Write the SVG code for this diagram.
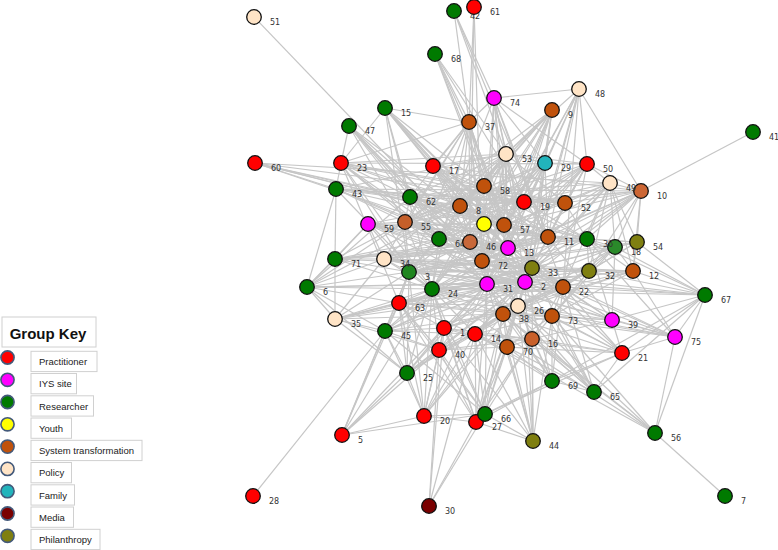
<svg xmlns="http://www.w3.org/2000/svg" width="778" height="550" viewBox="0 0 778 550">
<style>
#edges path{stroke:#c6c6c6;stroke-width:1.2;fill:none}
.node circle{stroke:#111;stroke-width:1.3}
.node text{font-family:"DejaVu Sans",sans-serif;font-size:8px;fill:#333}
.pr{fill:#ff0000}.iy{fill:#ff00ff}.re{fill:#007a00}.yo{fill:#ffff00}.st{fill:#c0520c}.po{fill:#ffe4c6}.fa{fill:#22b4bc}.me{fill:#7a0000}.ph{fill:#7f7f10}
.lk circle{stroke:#43597a;stroke-width:1.6}
.lk rect{fill:#fff;stroke:#d0d0d0;stroke-width:1}
.lk text{font-family:"Liberation Sans",Arial,sans-serif;font-size:9.5px;fill:#222}
</style>
<rect width="778" height="550" fill="#fff"/>
<g id="edges">
<path d="M254 17 470 242"/>
<path d="M255 163 504 225"/><path d="M255 163 548 237"/><path d="M255 163 565 203"/><path d="M255 163 587 239"/><path d="M255 163 508 248"/><path d="M255 163 410 197"/><path d="M255 163 336 189"/><path d="M255 163 610 183"/>
<path d="M341 163 385 108"/><path d="M341 163 349 126"/><path d="M341 163 336 189"/><path d="M341 163 410 197"/><path d="M341 163 484 186"/><path d="M341 163 524 202"/><path d="M341 163 565 203"/><path d="M341 163 587 239"/><path d="M341 163 548 237"/><path d="M341 163 482 261"/><path d="M341 163 487 284"/><path d="M341 163 439 239"/><path d="M341 163 409 272"/><path d="M341 163 432 289"/><path d="M341 163 399 303"/><path d="M341 163 587 164"/>
<path d="M433 166 469 122"/><path d="M433 166 484 186"/><path d="M433 166 504 225"/><path d="M433 166 508 248"/><path d="M433 166 548 237"/><path d="M433 166 587 239"/><path d="M433 166 518 306"/><path d="M433 166 470 242"/><path d="M433 166 525 282"/><path d="M433 166 563 287"/><path d="M433 166 385 108"/><path d="M433 166 506 154"/><path d="M433 166 641 191"/>
<path d="M336 189 307 287"/><path d="M336 189 335 259"/><path d="M336 189 410 197"/><path d="M336 189 405 222"/><path d="M336 189 460 206"/><path d="M336 189 524 202"/><path d="M336 189 565 203"/><path d="M336 189 548 237"/><path d="M336 189 532 268"/><path d="M336 189 432 289"/><path d="M336 189 563 287"/><path d="M336 189 641 191"/>
<path d="M349 126 405 222"/><path d="M349 126 439 239"/><path d="M349 126 482 261"/><path d="M349 126 487 284"/><path d="M349 126 525 282"/><path d="M349 126 563 287"/><path d="M349 126 518 306"/>
<path d="M385 108 469 122"/><path d="M385 108 484 186"/><path d="M385 108 504 225"/><path d="M385 108 508 248"/><path d="M385 108 432 289"/><path d="M385 108 409 272"/><path d="M385 108 532 268"/><path d="M385 108 563 287"/><path d="M385 108 525 282"/><path d="M385 108 410 197"/>
<path d="M435 54 469 122"/><path d="M435 54 506 154"/><path d="M435 54 504 225"/><path d="M435 54 548 237"/><path d="M435 54 508 248"/><path d="M435 54 532 268"/>
<path d="M454 11 469 122"/><path d="M454 11 494 98"/><path d="M454 11 506 154"/><path d="M454 11 548 237"/>
<path d="M474 7 469 122"/><path d="M474 7 482 261"/><path d="M474 7 470 242"/>
<path d="M494 98 579 89"/><path d="M494 98 469 122"/><path d="M494 98 506 154"/><path d="M494 98 545 163"/><path d="M494 98 504 225"/><path d="M494 98 548 237"/><path d="M494 98 563 287"/><path d="M494 98 439 239"/><path d="M494 98 482 261"/><path d="M494 98 518 306"/><path d="M494 98 487 284"/><path d="M494 98 532 268"/><path d="M494 98 587 164"/>
<path d="M469 122 484 186"/><path d="M469 122 460 206"/><path d="M469 122 504 225"/><path d="M469 122 508 248"/><path d="M469 122 470 242"/><path d="M469 122 482 261"/><path d="M469 122 487 284"/><path d="M469 122 409 272"/><path d="M469 122 432 289"/><path d="M469 122 384 259"/><path d="M469 122 405 222"/><path d="M469 122 410 197"/><path d="M469 122 341 163"/><path d="M469 122 525 282"/>
<path d="M552 110 506 154"/><path d="M552 110 545 163"/><path d="M552 110 460 206"/><path d="M552 110 484 186"/><path d="M552 110 504 225"/><path d="M552 110 470 242"/><path d="M552 110 482 261"/><path d="M552 110 508 248"/><path d="M552 110 487 284"/><path d="M552 110 532 268"/><path d="M552 110 525 282"/><path d="M552 110 405 222"/><path d="M552 110 439 239"/><path d="M552 110 432 289"/>
<path d="M579 89 641 191"/><path d="M579 89 506 154"/><path d="M579 89 545 163"/><path d="M579 89 587 164"/><path d="M579 89 504 225"/><path d="M579 89 508 248"/><path d="M579 89 548 237"/><path d="M579 89 525 282"/><path d="M579 89 563 287"/><path d="M579 89 532 268"/><path d="M579 89 482 261"/>
<path d="M506 154 545 163"/><path d="M506 154 484 186"/><path d="M506 154 460 206"/><path d="M506 154 504 225"/><path d="M506 154 470 242"/><path d="M506 154 508 248"/><path d="M506 154 482 261"/><path d="M506 154 487 284"/><path d="M506 154 525 282"/><path d="M506 154 532 268"/><path d="M506 154 524 202"/><path d="M506 154 565 203"/><path d="M506 154 432 289"/><path d="M506 154 409 272"/><path d="M506 154 405 222"/><path d="M506 154 410 197"/><path d="M506 154 439 239"/><path d="M506 154 384 259"/><path d="M506 154 336 189"/><path d="M506 154 341 163"/><path d="M506 154 587 164"/>
<path d="M545 163 587 164"/><path d="M545 163 504 225"/><path d="M545 163 508 248"/><path d="M545 163 548 237"/><path d="M545 163 482 261"/><path d="M545 163 525 282"/><path d="M545 163 487 284"/><path d="M545 163 532 268"/><path d="M545 163 460 206"/><path d="M545 163 470 242"/><path d="M545 163 439 239"/><path d="M545 163 432 289"/><path d="M545 163 409 272"/><path d="M545 163 405 222"/>
<path d="M587 164 641 191"/><path d="M587 164 610 183"/><path d="M587 164 565 203"/><path d="M587 164 524 202"/><path d="M587 164 548 237"/><path d="M587 164 508 248"/><path d="M587 164 504 225"/><path d="M587 164 482 261"/><path d="M587 164 532 268"/><path d="M587 164 525 282"/><path d="M587 164 487 284"/><path d="M587 164 563 287"/><path d="M587 164 439 239"/><path d="M587 164 405 222"/>
<path d="M610 183 641 191"/><path d="M610 183 587 239"/><path d="M610 183 615 247"/><path d="M610 183 637 242"/><path d="M610 183 633 271"/><path d="M610 183 589 271"/><path d="M610 183 565 203"/><path d="M610 183 548 237"/><path d="M610 183 524 202"/><path d="M610 183 504 225"/><path d="M610 183 532 268"/><path d="M610 183 525 282"/><path d="M610 183 563 287"/><path d="M610 183 508 248"/><path d="M610 183 410 197"/>
<path d="M641 191 753 132"/><path d="M641 191 637 242"/><path d="M641 191 615 247"/><path d="M641 191 587 239"/><path d="M641 191 565 203"/><path d="M641 191 548 237"/><path d="M641 191 524 202"/><path d="M641 191 504 225"/><path d="M641 191 508 248"/><path d="M641 191 525 282"/><path d="M641 191 532 268"/><path d="M641 191 589 271"/><path d="M641 191 633 271"/><path d="M641 191 482 261"/><path d="M641 191 487 284"/><path d="M641 191 460 206"/>
<path d="M637 242 705 295"/><path d="M637 242 615 247"/><path d="M637 242 587 239"/><path d="M637 242 633 271"/><path d="M637 242 589 271"/><path d="M637 242 548 237"/><path d="M637 242 532 268"/><path d="M637 242 563 287"/>
<path d="M615 247 633 271"/><path d="M615 247 705 295"/><path d="M615 247 587 239"/><path d="M615 247 589 271"/><path d="M615 247 548 237"/><path d="M615 247 532 268"/><path d="M615 247 525 282"/><path d="M615 247 563 287"/><path d="M615 247 552 316"/><path d="M615 247 612 320"/><path d="M615 247 518 306"/>
<path d="M633 271 705 295"/><path d="M633 271 675 337"/><path d="M633 271 589 271"/><path d="M633 271 532 268"/><path d="M633 271 563 287"/><path d="M633 271 552 316"/><path d="M633 271 518 306"/><path d="M633 271 525 282"/>
<path d="M705 295 655 433"/><path d="M705 295 552 381"/><path d="M705 295 594 392"/><path d="M705 295 622 353"/><path d="M705 295 675 337"/><path d="M705 295 612 320"/><path d="M705 295 587 239"/><path d="M705 295 589 271"/><path d="M705 295 563 287"/><path d="M705 295 432 289"/><path d="M705 295 384 259"/><path d="M705 295 409 272"/>
<path d="M675 337 655 433"/><path d="M675 337 622 353"/><path d="M675 337 612 320"/><path d="M675 337 563 287"/><path d="M675 337 552 316"/><path d="M675 337 518 306"/><path d="M675 337 503 314"/><path d="M675 337 525 282"/><path d="M675 337 532 268"/><path d="M675 337 487 284"/><path d="M675 337 587 239"/>
<path d="M612 320 622 353"/><path d="M612 320 563 287"/><path d="M612 320 552 316"/><path d="M612 320 518 306"/><path d="M612 320 503 314"/><path d="M612 320 532 339"/><path d="M612 320 525 282"/><path d="M612 320 532 268"/><path d="M612 320 487 284"/><path d="M612 320 548 237"/><path d="M612 320 587 239"/>
<path d="M622 353 552 381"/><path d="M622 353 594 392"/><path d="M622 353 532 339"/><path d="M622 353 507 347"/><path d="M622 353 552 316"/><path d="M622 353 503 314"/><path d="M622 353 475 334"/><path d="M622 353 563 287"/><path d="M622 353 525 282"/><path d="M622 353 487 284"/><path d="M622 353 532 268"/><path d="M622 353 485 414"/>
<path d="M655 433 725 496"/><path d="M655 433 503 314"/><path d="M655 433 518 306"/><path d="M655 433 532 339"/><path d="M655 433 475 334"/><path d="M655 433 432 289"/><path d="M655 433 552 316"/>
<path d="M594 392 552 381"/><path d="M594 392 552 316"/><path d="M594 392 518 306"/><path d="M594 392 503 314"/><path d="M594 392 532 339"/><path d="M594 392 507 347"/><path d="M594 392 525 282"/><path d="M594 392 563 287"/><path d="M594 392 487 284"/><path d="M594 392 532 268"/>
<path d="M552 381 507 347"/><path d="M552 381 532 339"/><path d="M552 381 503 314"/><path d="M552 381 518 306"/><path d="M552 381 552 316"/><path d="M552 381 525 282"/><path d="M552 381 487 284"/><path d="M552 381 563 287"/><path d="M552 381 485 414"/><path d="M552 381 476 422"/><path d="M552 381 475 334"/>
<path d="M533 441 532 339"/><path d="M533 441 507 347"/><path d="M533 441 485 414"/><path d="M533 441 476 422"/><path d="M533 441 503 314"/><path d="M533 441 518 306"/><path d="M533 441 552 316"/><path d="M533 441 475 334"/><path d="M533 441 444 328"/><path d="M533 441 487 284"/><path d="M533 441 525 282"/><path d="M533 441 532 268"/>
<path d="M485 414 476 422"/><path d="M485 414 424 416"/><path d="M485 414 475 334"/><path d="M485 414 444 328"/><path d="M485 414 439 350"/><path d="M485 414 503 314"/><path d="M485 414 507 347"/><path d="M485 414 532 339"/><path d="M485 414 518 306"/><path d="M485 414 487 284"/><path d="M485 414 432 289"/><path d="M485 414 385 331"/><path d="M485 414 399 303"/><path d="M485 414 342 435"/>
<path d="M476 422 429 506"/><path d="M476 422 424 416"/><path d="M476 422 475 334"/><path d="M476 422 444 328"/><path d="M476 422 439 350"/><path d="M476 422 503 314"/><path d="M476 422 507 347"/><path d="M476 422 532 339"/><path d="M476 422 518 306"/><path d="M476 422 525 282"/><path d="M476 422 487 284"/><path d="M476 422 432 289"/><path d="M476 422 399 303"/>
<path d="M429 506 485 414"/><path d="M429 506 475 334"/><path d="M429 506 444 328"/><path d="M429 506 439 350"/>
<path d="M424 416 342 435"/><path d="M424 416 407 373"/><path d="M424 416 439 350"/><path d="M424 416 444 328"/><path d="M424 416 475 334"/><path d="M424 416 503 314"/><path d="M424 416 518 306"/><path d="M424 416 399 303"/><path d="M424 416 385 331"/><path d="M424 416 432 289"/><path d="M424 416 487 284"/><path d="M424 416 409 272"/>
<path d="M342 435 407 373"/><path d="M342 435 385 331"/><path d="M342 435 399 303"/><path d="M342 435 432 289"/><path d="M342 435 409 272"/><path d="M342 435 439 350"/><path d="M342 435 444 328"/>
<path d="M253 496 385 331"/>
<path d="M407 373 385 331"/><path d="M407 373 439 350"/><path d="M407 373 444 328"/><path d="M407 373 475 334"/><path d="M407 373 503 314"/><path d="M407 373 518 306"/><path d="M407 373 399 303"/><path d="M407 373 432 289"/><path d="M407 373 409 272"/><path d="M407 373 487 284"/><path d="M407 373 525 282"/><path d="M407 373 335 319"/><path d="M407 373 307 287"/>
<path d="M385 331 335 319"/><path d="M385 331 399 303"/><path d="M385 331 439 350"/><path d="M385 331 444 328"/><path d="M385 331 475 334"/><path d="M385 331 432 289"/><path d="M385 331 409 272"/><path d="M385 331 487 284"/><path d="M385 331 525 282"/><path d="M385 331 482 261"/><path d="M385 331 532 268"/><path d="M385 331 503 314"/>
<path d="M335 319 307 287"/><path d="M335 319 399 303"/><path d="M335 319 432 289"/><path d="M335 319 409 272"/><path d="M335 319 384 259"/><path d="M335 319 335 259"/><path d="M335 319 487 284"/><path d="M335 319 525 282"/><path d="M335 319 532 268"/><path d="M335 319 563 287"/><path d="M335 319 503 314"/><path d="M335 319 439 350"/>
<path d="M307 287 335 259"/><path d="M307 287 384 259"/><path d="M307 287 409 272"/><path d="M307 287 432 289"/><path d="M307 287 399 303"/><path d="M307 287 368 224"/><path d="M307 287 405 222"/><path d="M307 287 410 197"/><path d="M307 287 460 206"/><path d="M307 287 487 284"/><path d="M307 287 525 282"/><path d="M307 287 385 331"/>
<path d="M335 259 384 259"/><path d="M335 259 409 272"/><path d="M335 259 432 289"/><path d="M335 259 368 224"/><path d="M335 259 405 222"/><path d="M335 259 439 239"/><path d="M335 259 470 242"/><path d="M335 259 508 248"/><path d="M335 259 548 237"/><path d="M335 259 587 239"/><path d="M335 259 532 268"/>
<path d="M368 224 405 222"/><path d="M368 224 439 239"/><path d="M368 224 470 242"/><path d="M368 224 460 206"/><path d="M368 224 504 225"/><path d="M368 224 508 248"/><path d="M368 224 548 237"/><path d="M368 224 587 239"/><path d="M368 224 482 261"/><path d="M368 224 487 284"/><path d="M368 224 525 282"/><path d="M368 224 532 268"/><path d="M368 224 384 259"/><path d="M368 224 409 272"/>
<path d="M405 222 410 197"/><path d="M405 222 460 206"/><path d="M405 222 484 186"/><path d="M405 222 504 225"/><path d="M405 222 439 239"/><path d="M405 222 470 242"/><path d="M405 222 508 248"/><path d="M405 222 482 261"/><path d="M405 222 487 284"/><path d="M405 222 525 282"/><path d="M405 222 532 268"/><path d="M405 222 563 287"/><path d="M405 222 548 237"/><path d="M405 222 587 239"/><path d="M405 222 524 202"/><path d="M405 222 565 203"/><path d="M405 222 409 272"/><path d="M405 222 432 289"/>
<path d="M410 197 484 186"/><path d="M410 197 460 206"/><path d="M410 197 484 224"/><path d="M410 197 504 225"/><path d="M410 197 524 202"/><path d="M410 197 565 203"/><path d="M410 197 548 237"/><path d="M410 197 587 239"/><path d="M410 197 508 248"/><path d="M410 197 439 239"/><path d="M410 197 470 242"/><path d="M410 197 482 261"/><path d="M410 197 532 268"/>
<path d="M384 259 409 272"/><path d="M384 259 432 289"/><path d="M384 259 439 239"/><path d="M384 259 470 242"/><path d="M384 259 508 248"/><path d="M384 259 482 261"/><path d="M384 259 487 284"/><path d="M384 259 525 282"/><path d="M384 259 532 268"/><path d="M384 259 563 287"/><path d="M384 259 548 237"/><path d="M384 259 587 239"/><path d="M384 259 589 271"/><path d="M384 259 633 271"/>
<path d="M409 272 432 289"/><path d="M409 272 439 239"/><path d="M409 272 470 242"/><path d="M409 272 508 248"/><path d="M409 272 482 261"/><path d="M409 272 487 284"/><path d="M409 272 525 282"/><path d="M409 272 532 268"/><path d="M409 272 563 287"/><path d="M409 272 548 237"/><path d="M409 272 587 239"/><path d="M409 272 589 271"/><path d="M409 272 615 247"/><path d="M409 272 637 242"/><path d="M409 272 633 271"/><path d="M409 272 399 303"/>
<path d="M399 303 432 289"/><path d="M399 303 439 350"/><path d="M399 303 444 328"/><path d="M399 303 475 334"/><path d="M399 303 503 314"/><path d="M399 303 518 306"/><path d="M399 303 487 284"/><path d="M399 303 525 282"/><path d="M399 303 532 268"/><path d="M399 303 563 287"/><path d="M399 303 552 316"/>
<path d="M432 289 439 239"/><path d="M432 289 470 242"/><path d="M432 289 482 261"/><path d="M432 289 487 284"/><path d="M432 289 525 282"/><path d="M432 289 532 268"/><path d="M432 289 563 287"/><path d="M432 289 552 316"/><path d="M432 289 503 314"/><path d="M432 289 518 306"/><path d="M432 289 548 237"/><path d="M432 289 587 239"/><path d="M432 289 589 271"/><path d="M432 289 633 271"/><path d="M432 289 444 328"/><path d="M432 289 475 334"/><path d="M432 289 439 350"/>
<path d="M444 328 475 334"/><path d="M444 328 439 350"/><path d="M444 328 503 314"/><path d="M444 328 518 306"/><path d="M444 328 507 347"/><path d="M444 328 532 339"/><path d="M444 328 487 284"/><path d="M444 328 525 282"/><path d="M444 328 532 268"/><path d="M444 328 563 287"/>
<path d="M439 350 475 334"/><path d="M439 350 503 314"/><path d="M439 350 507 347"/><path d="M439 350 532 339"/><path d="M439 350 487 284"/><path d="M439 350 525 282"/>
<path d="M475 334 503 314"/><path d="M475 334 518 306"/><path d="M475 334 507 347"/><path d="M475 334 532 339"/><path d="M475 334 525 282"/><path d="M475 334 563 287"/><path d="M475 334 552 316"/><path d="M475 334 532 268"/>
<path d="M503 314 518 306"/><path d="M503 314 507 347"/><path d="M503 314 532 339"/><path d="M503 314 552 316"/><path d="M503 314 525 282"/><path d="M503 314 563 287"/><path d="M503 314 532 268"/><path d="M503 314 487 284"/><path d="M503 314 633 271"/><path d="M503 314 589 271"/>
<path d="M518 306 552 316"/><path d="M518 306 532 339"/><path d="M518 306 507 347"/><path d="M518 306 563 287"/><path d="M518 306 525 282"/><path d="M518 306 532 268"/><path d="M518 306 589 271"/>
<path d="M507 347 532 339"/><path d="M507 347 552 316"/><path d="M532 339 552 316"/><path d="M532 339 563 287"/>
<path d="M552 316 563 287"/><path d="M552 316 589 271"/><path d="M563 287 589 271"/><path d="M563 287 532 268"/>
<path d="M589 271 532 268"/><path d="M589 271 587 239"/>
<path d="M532 268 525 282"/><path d="M532 268 487 284"/><path d="M532 268 482 261"/><path d="M532 268 508 248"/><path d="M532 268 548 237"/><path d="M532 268 587 239"/>
<path d="M525 282 487 284"/><path d="M525 282 482 261"/><path d="M525 282 508 248"/><path d="M525 282 548 237"/>
<path d="M487 284 482 261"/><path d="M487 284 508 248"/><path d="M487 284 470 242"/>
<path d="M482 261 470 242"/><path d="M482 261 508 248"/><path d="M482 261 439 239"/><path d="M482 261 504 225"/><path d="M482 261 548 237"/>
<path d="M508 248 470 242"/><path d="M508 248 504 225"/><path d="M508 248 548 237"/><path d="M508 248 460 206"/><path d="M508 248 484 224"/>
<path d="M470 242 439 239"/><path d="M470 242 460 206"/><path d="M470 242 504 225"/><path d="M470 242 484 224"/>
<path d="M439 239 460 206"/><path d="M439 239 484 224"/>
<path d="M484 224 460 206"/><path d="M484 224 504 225"/><path d="M484 224 484 186"/><path d="M484 224 524 202"/>
<path d="M460 206 484 186"/><path d="M460 206 504 225"/><path d="M460 206 524 202"/>
<path d="M484 186 524 202"/><path d="M484 186 504 225"/><path d="M484 186 565 203"/><path d="M484 186 548 237"/>
<path d="M524 202 565 203"/><path d="M524 202 504 225"/><path d="M524 202 548 237"/><path d="M524 202 587 239"/>
<path d="M565 203 548 237"/><path d="M565 203 587 239"/><path d="M565 203 504 225"/>
<path d="M548 237 587 239"/><path d="M548 237 504 225"/><path d="M587 239 633 271"/>
</g>
<g id="n42" class="node"><circle class="re" cx="454" cy="11" r="7.3"/><text x="470" y="19">42</text></g>
<g id="n61" class="node"><circle class="pr" cx="474" cy="7" r="7.3"/><text x="490" y="15">61</text></g>
<g id="n1" class="node"><circle class="pr" cx="444" cy="328" r="7.3"/><text x="460" y="336">1</text></g>
<g id="n2" class="node"><circle class="iy" cx="525" cy="282" r="7.3"/><text x="541" y="290">2</text></g>
<g id="n3" class="node"><circle class="re" cx="409" cy="272" r="7.3" style="fill:#1f861f"/><text x="425" y="280">3</text></g>
<g id="n4" class="node"><circle class="yo" cx="484" cy="224" r="7.3"/></g>
<g id="n5" class="node"><circle class="pr" cx="342" cy="435" r="7.3"/><text x="358" y="443">5</text></g>
<g id="n6" class="node"><circle class="re" cx="307" cy="287" r="7.3"/><text x="323" y="295">6</text></g>
<g id="n7" class="node"><circle class="re" cx="725" cy="496" r="7.3"/><text x="741" y="504">7</text></g>
<g id="n8" class="node"><circle class="st" cx="460" cy="206" r="7.3"/><text x="476" y="214">8</text></g>
<g id="n9" class="node"><circle class="st" cx="552" cy="110" r="7.3"/><text x="568" y="118">9</text></g>
<g id="n10" class="node"><circle class="st" cx="641" cy="191" r="7.3" style="fill:#cc6634"/><text x="657" y="199">10</text></g>
<g id="n11" class="node"><circle class="st" cx="548" cy="237" r="7.3"/><text x="564" y="245">11</text></g>
<g id="n12" class="node"><circle class="st" cx="633" cy="271" r="7.3"/><text x="649" y="279">12</text></g>
<g id="n13" class="node"><circle class="iy" cx="508" cy="248" r="7.3"/><text x="524" y="256">13</text></g>
<g id="n14" class="node"><circle class="pr" cx="475" cy="334" r="7.3"/><text x="491" y="342">14</text></g>
<g id="n15" class="node"><circle class="re" cx="385" cy="108" r="7.3"/><text x="401" y="116">15</text></g>
<g id="n16" class="node"><circle class="st" cx="532" cy="339" r="7.3" style="fill:#c8602a"/><text x="548" y="347">16</text></g>
<g id="n17" class="node"><circle class="pr" cx="433" cy="166" r="7.3"/><text x="449" y="174">17</text></g>
<g id="n18" class="node"><circle class="re" cx="615" cy="247" r="7.3" style="fill:#2a8a2a"/><text x="631" y="255">18</text></g>
<g id="n19" class="node"><circle class="pr" cx="524" cy="202" r="7.3"/><text x="540" y="210">19</text></g>
<g id="n20" class="node"><circle class="pr" cx="424" cy="416" r="7.3"/><text x="440" y="424">20</text></g>
<g id="n21" class="node"><circle class="pr" cx="622" cy="353" r="7.3"/><text x="638" y="361">21</text></g>
<g id="n22" class="node"><circle class="st" cx="563" cy="287" r="7.3"/><text x="579" y="295">22</text></g>
<g id="n23" class="node"><circle class="pr" cx="341" cy="163" r="7.3"/><text x="357" y="171">23</text></g>
<g id="n24" class="node"><circle class="re" cx="432" cy="289" r="7.3"/><text x="448" y="297">24</text></g>
<g id="n25" class="node"><circle class="re" cx="407" cy="373" r="7.3"/><text x="423" y="381">25</text></g>
<g id="n26" class="node"><circle class="po" cx="518" cy="306" r="7.3"/><text x="534" y="314">26</text></g>
<g id="n27" class="node"><circle class="pr" cx="476" cy="422" r="7.3"/><text x="492" y="430">27</text></g>
<g id="n28" class="node"><circle class="pr" cx="253" cy="496" r="7.3"/><text x="269" y="504">28</text></g>
<g id="n29" class="node"><circle class="fa" cx="545" cy="163" r="7.3"/><text x="561" y="171">29</text></g>
<g id="n30" class="node"><circle class="me" cx="429" cy="506" r="7.3"/><text x="445" y="514">30</text></g>
<g id="n31" class="node"><circle class="iy" cx="487" cy="284" r="7.3"/><text x="503" y="292">31</text></g>
<g id="n32" class="node"><circle class="ph" cx="589" cy="271" r="7.3"/><text x="605" y="279">32</text></g>
<g id="n33" class="node"><circle class="ph" cx="532" cy="268" r="7.3"/><text x="548" y="276">33</text></g>
<g id="n34" class="node"><circle class="po" cx="384" cy="259" r="7.3"/><text x="400" y="267">34</text></g>
<g id="n35" class="node"><circle class="po" cx="335" cy="319" r="7.3"/><text x="351" y="327">35</text></g>
<g id="n36" class="node"><circle class="re" cx="587" cy="239" r="7.3"/><text x="603" y="247">36</text></g>
<g id="n37" class="node"><circle class="st" cx="469" cy="122" r="7.3"/><text x="485" y="130">37</text></g>
<g id="n38" class="node"><circle class="st" cx="503" cy="314" r="7.3"/><text x="519" y="322">38</text></g>
<g id="n39" class="node"><circle class="iy" cx="612" cy="320" r="7.3"/><text x="628" y="328">39</text></g>
<g id="n40" class="node"><circle class="pr" cx="439" cy="350" r="7.3"/><text x="455" y="358">40</text></g>
<g id="n41" class="node"><circle class="re" cx="753" cy="132" r="7.3"/><text x="769" y="140">41</text></g>
<g id="n43" class="node"><circle class="re" cx="336" cy="189" r="7.3"/><text x="352" y="197">43</text></g>
<g id="n44" class="node"><circle class="ph" cx="533" cy="441" r="7.3"/><text x="549" y="449">44</text></g>
<g id="n45" class="node"><circle class="re" cx="385" cy="331" r="7.3"/><text x="401" y="339">45</text></g>
<g id="n47" class="node"><circle class="re" cx="349" cy="126" r="7.3"/><text x="365" y="134">47</text></g>
<g id="n48" class="node"><circle class="po" cx="579" cy="89" r="7.3"/><text x="595" y="97">48</text></g>
<g id="n49" class="node"><circle class="po" cx="610" cy="183" r="7.3"/><text x="626" y="191">49</text></g>
<g id="n50" class="node"><circle class="pr" cx="587" cy="164" r="7.3"/><text x="603" y="172">50</text></g>
<g id="n51" class="node"><circle class="po" cx="254" cy="17" r="7.3"/><text x="270" y="25">51</text></g>
<g id="n52" class="node"><circle class="st" cx="565" cy="203" r="7.3"/><text x="581" y="211">52</text></g>
<g id="n53" class="node"><circle class="po" cx="506" cy="154" r="7.3"/><text x="522" y="162">53</text></g>
<g id="n54" class="node"><circle class="ph" cx="637" cy="242" r="7.3"/><text x="653" y="250">54</text></g>
<g id="n55" class="node"><circle class="st" cx="405" cy="222" r="7.3" style="fill:#c45f2a"/><text x="421" y="230">55</text></g>
<g id="n56" class="node"><circle class="re" cx="655" cy="433" r="7.3"/><text x="671" y="441">56</text></g>
<g id="n57" class="node"><circle class="st" cx="504" cy="225" r="7.3"/><text x="520" y="233">57</text></g>
<g id="n58" class="node"><circle class="st" cx="484" cy="186" r="7.3"/><text x="500" y="194">58</text></g>
<g id="n59" class="node"><circle class="iy" cx="368" cy="224" r="7.3"/><text x="384" y="232">59</text></g>
<g id="n60" class="node"><circle class="pr" cx="255" cy="163" r="7.3"/><text x="271" y="171">60</text></g>
<g id="n62" class="node"><circle class="re" cx="410" cy="197" r="7.3"/><text x="426" y="205">62</text></g>
<g id="n63" class="node"><circle class="pr" cx="399" cy="303" r="7.3"/><text x="415" y="311">63</text></g>
<g id="n64" class="node"><circle class="re" cx="439" cy="239" r="7.3"/><text x="455" y="247">64</text></g>
<g id="n46" class="node"><circle class="st" cx="470" cy="242" r="7.3" style="fill:#c8683a"/><text x="486" y="250">46</text></g>
<g id="n65" class="node"><circle class="re" cx="594" cy="392" r="7.3"/><text x="610" y="400">65</text></g>
<g id="n66" class="node"><circle class="re" cx="485" cy="414" r="7.3"/><text x="501" y="422">66</text></g>
<g id="n67" class="node"><circle class="re" cx="705" cy="295" r="7.3"/><text x="721" y="303">67</text></g>
<g id="n68" class="node"><circle class="re" cx="435" cy="54" r="7.3"/><text x="451" y="62">68</text></g>
<g id="n69" class="node"><circle class="re" cx="552" cy="381" r="7.3"/><text x="568" y="389">69</text></g>
<g id="n70" class="node"><circle class="st" cx="507" cy="347" r="7.3"/><text x="523" y="355">70</text></g>
<g id="n71" class="node"><circle class="re" cx="335" cy="259" r="7.3"/><text x="351" y="267">71</text></g>
<g id="n72" class="node"><circle class="st" cx="482" cy="261" r="7.3"/><text x="498" y="269">72</text></g>
<g id="n73" class="node"><circle class="st" cx="552" cy="316" r="7.3"/><text x="568" y="324">73</text></g>
<g id="n74" class="node"><circle class="iy" cx="494" cy="98" r="7.3"/><text x="510" y="106">74</text></g>
<g id="n75" class="node"><circle class="iy" cx="675" cy="337" r="7.3"/><text x="691" y="345">75</text></g>
<g id="legend">
<rect x="2" y="317" width="94" height="30" fill="#fff" stroke="#d0d0d0"/>
<text x="48" y="339" text-anchor="middle" font-family="Liberation Sans, Arial, sans-serif" font-size="15" font-weight="bold" fill="#111">Group Key</text>
<g class="lk" id="key-practitioner"><circle class="pr" cx="7.5" cy="357.5" r="6.6"/><rect x="31" y="351.3" width="66" height="20.3"/><text x="39" y="365">Practitioner</text></g>
<g class="lk" id="key-iys"><circle class="iy" cx="7.5" cy="379.8" r="6.6"/><rect x="31" y="373.5" width="45.5" height="20.3"/><text x="39" y="387.3">IYS site</text></g>
<g class="lk" id="key-researcher"><circle class="re" cx="7.5" cy="402" r="6.6"/><rect x="31" y="395.8" width="62.5" height="20.3"/><text x="39" y="409.5">Researcher</text></g>
<g class="lk" id="key-youth"><circle class="yo" cx="7.5" cy="424.3" r="6.6"/><rect x="31" y="418" width="40.5" height="20.3"/><text x="39" y="431.8">Youth</text></g>
<g class="lk" id="key-system"><circle class="st" cx="7.5" cy="446.6" r="6.6"/><rect x="31" y="440.3" width="111" height="20.3"/><text x="39" y="454">System transformation</text></g>
<g class="lk" id="key-policy"><circle class="po" cx="7.5" cy="468.9" r="6.6"/><rect x="31" y="462.5" width="40.5" height="20.3"/><text x="39" y="476.3">Policy</text></g>
<g class="lk" id="key-family"><circle class="fa" cx="7.5" cy="491.2" r="6.6"/><rect x="31" y="484.8" width="43.5" height="20.3"/><text x="39" y="498.6">Family</text></g>
<g class="lk" id="key-media"><circle class="me" cx="7.5" cy="513.5" r="6.6"/><rect x="31" y="507" width="42.5" height="20.3"/><text x="39" y="520.8">Media</text></g>
<g class="lk" id="key-philanthropy"><circle class="ph" cx="7.5" cy="535.8" r="6.6"/><rect x="31" y="529.3" width="69" height="20.3"/><text x="39" y="543.1">Philanthropy</text></g>
</g>
</svg>
